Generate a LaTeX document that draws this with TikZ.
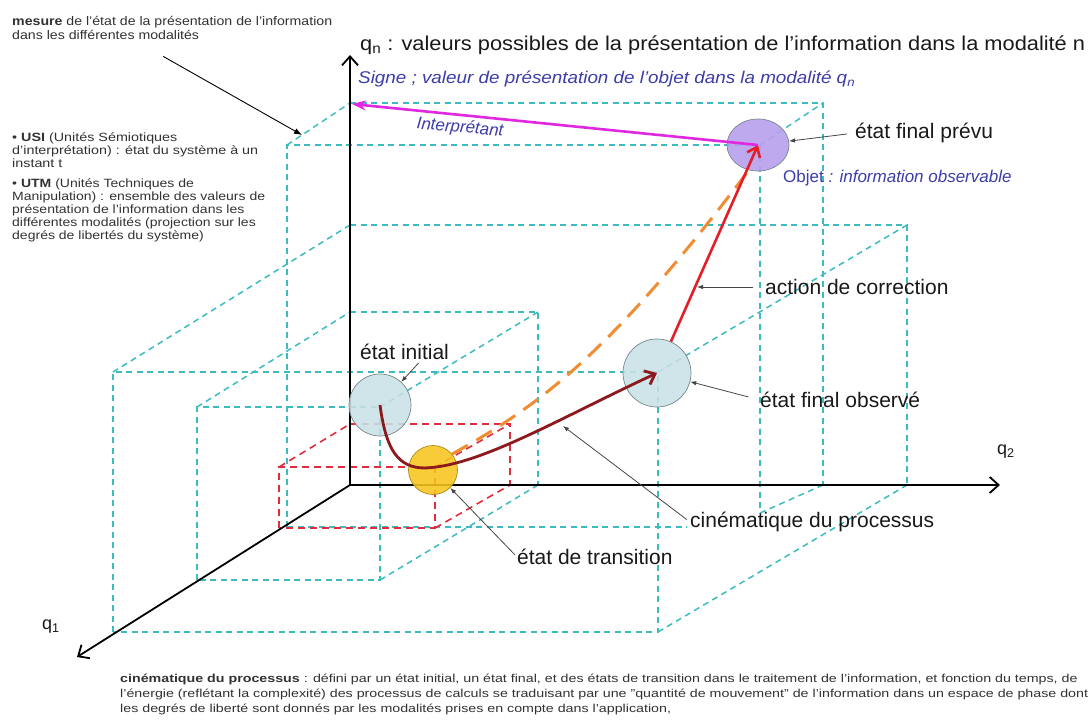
\documentclass[tikz,border=0pt]{standalone}
\usepackage{fontspec}
\setmainfont{Liberation Sans}
\usepackage{graphicx}
\usetikzlibrary{arrows.meta,calc,shapes.geometric}

\definecolor{cyanl}{RGB}{60,188,190}
\definecolor{redd}{RGB}{222,45,60}
\definecolor{stateblue}{RGB}{200,225,230}
\definecolor{ballgray}{RGB}{120,135,140}
\definecolor{transy}{RGB}{247,196,30}
\definecolor{prevuv}{RGB}{184,160,236}
\definecolor{objblue}{RGB}{60,60,170}
\definecolor{maroonc}{RGB}{140,25,28}
\definecolor{redarr}{RGB}{228,30,40}
\definecolor{magc}{RGB}{225,40,225}
\definecolor{orangec}{RGB}{240,140,50}
\definecolor{ptrgray}{RGB}{70,70,70}
\definecolor{smalltxt}{RGB}{50,50,50}

\newsavebox\fitbx
\newlength\fitlen
\newcommand\fitw[2]{\sbox\fitbx{#2}\setlength\fitlen{\wd\fitbx}\pgfmathsetmacro\fitsx{#1/\fitlen}\scalebox{\fitsx}[1]{\usebox\fitbx}}

\begin{document}
\begin{tikzpicture}[x=1pt,y=-1pt,
  cyd/.style={draw=cyanl, line width=1.5pt, dash pattern=on 6pt off 4.5pt},
  rdd/.style={draw=redd, line width=1.6pt, dash pattern=on 7pt off 5pt},
  axisline/.style={draw=black, line width=1.8pt, -{Straight Barb[length=9pt,width=16pt]}},
  ptr/.style={draw=ptrgray, line width=0.8pt, -{Latex[length=6pt,width=4.5pt]}},
  lbl/.style={font=\fontsize{21}{24}\selectfont, text=black!90, inner sep=0pt, anchor=west},
  ball/.style={circle, draw=ballgray, line width=0.7pt, inner sep=0pt, fill opacity=0.88},
  bluetxt/.style={text=objblue, font=\fontsize{17}{20}\selectfont\itshape, inner sep=0pt},
  smallblock/.style={anchor=north west, inner sep=0pt, text=smalltxt},
  redarrow/.style={draw=redarr, line width=2.6pt, -{Straight Barb[length=9pt,width=14pt]}},
  maroonarrow/.style={draw=maroonc, line width=2.8pt, -{Straight Barb[length=9pt,width=15pt]}},
  magarrow/.style={draw=magc, line width=2.6pt, -{Stealth[length=14pt,width=10pt]}},
  orangedash/.style={draw=orangec, line width=3pt, dash pattern=on 18pt off 10pt},
]
\useasboundingbox (0,0) rectangle (1092,722);

% ---- tall box (final expected) ----
\draw[cyd] (350,103) -- (823,103) -- (823,485);
\draw[cyd] (287,527) -- (287,145) -- (758,145);
\draw[cyd] (760,145) -- (760,513);
\draw[cyd] (287,527) -- (687,527);
\draw[cyd] (287,145) -- (350,103);
\draw[cyd] (760,145) -- (823,103);
\draw[cyd] (760,513) -- (823,485);

% ---- deep box (final observed) ----
\draw[cyd] (350,225) -- (907,225) -- (907,485);
\draw[cyd] (113,632) -- (113,372) -- (658,372) -- (658,632) -- cycle;
\draw[cyd] (113,372) -- (350,225);
\draw[cyd] (658,372) -- (907,225);
\draw[cyd] (658,632) -- (907,485);

% ---- middle box (initial) ----
\draw[cyd] (350,312) -- (538,312) -- (538,485);
\draw[cyd] (197,580) -- (197,407) -- (380,407) -- (380,580) -- cycle;
\draw[cyd] (197,407) -- (350,312);
\draw[cyd] (380,407) -- (538,312);
\draw[cyd] (380,580) -- (538,485);

% ---- red box (transition) ----
\draw[rdd] (350,424) -- (510,424) -- (510,485);
\draw[rdd] (279,528) -- (279,467) -- (435,467) -- (435,528) -- cycle;
\draw[rdd] (279,467) -- (350,424);
\draw[rdd] (435,467) -- (510,424);
\draw[rdd] (435,528) -- (510,485);

% ---- axes ----
\coordinate (O) at (350,485);
\coordinate (qnend) at (350,55);
\coordinate (q2end) at (1000,485);
\coordinate (q1end) at (77,657);
\draw[axisline] (O) -- (qnend);
\draw[axisline] (O) -- (q2end);
\draw[axisline] (O) -- (q1end);

% ---- states ----
\node[ball, fill=stateblue, minimum size=62pt] (init) at (380,405) {};
\node[ball, fill=stateblue, minimum size=68pt] (obs) at (657,373) {};
\node[ball, fill=transy, draw=transy!70!black, minimum size=49pt] (trans) at (433,470) {};
\node[ellipse, draw=ballgray, line width=0.7pt, fill=prevuv, fill opacity=0.9, minimum width=62pt, minimum height=52pt, inner sep=0pt] (prevu) at (758,145) {};

% ---- trajectories ----
\draw[orangedash] (trans.40) .. controls (545,403) and (615,347) .. (prevu.250);
\draw[maroonarrow] (init.center) .. controls (386,450) and (398,468) .. (425,468) .. controls (480,466) and (560,418) .. (obs.center);
\draw[redarrow] (obs) -- (prevu.center);
\coordinate (qntip) at (352,104);
\draw[magarrow] (prevu.center) -- (qntip);

% ---- labels ----
\node[lbl, font=\fontsize{20}{24}\selectfont] (lblqn) at (360,45) {\fitw{725}{q\textsubscript{n} : valeurs possibles de la présentation de l'information dans la modalité n}};
\node[bluetxt, anchor=west] (signe) at (358,79) {\fitw{497}{Signe ; valeur de présentation de l'objet dans la modalité q\textsubscript{n}}};
\node[bluetxt, rotate=-5] (interp) at (460,128) {Interprétant};
\node[bluetxt, anchor=west] (objet) at (783,178) {\upshape Objet\itshape{} : information observable};

\node[lbl] (lblprevu) at (855,133) {état final prévu};
\node[lbl] (lblcorr) at (765,287) {action de correction};
\node[lbl] (lblinit) at (360,352) {état initial};
\node[lbl] (lblobs) at (760,400) {état final observé};
\node[lbl] (lblcin) at (690,522) {cinématique du processus};
\node[lbl] (lbltrans) at (517,557) {état de transition};
\node[lbl, font=\fontsize{18}{20}\selectfont] (lq2) at (997,452) {q\textsubscript{2}};
\node[lbl, font=\fontsize{18}{20}\selectfont] (lq1) at (42,627) {q\textsubscript{1}};

\node[smallblock, font=\fontsize{12.5}{14}\selectfont] (mesure) at (12,16) {\fitw{320}{\begin{tabular}{@{}l@{}}\textbf{mesure} de l'état de la présentation de l'information\\ dans les différentes modalités\end{tabular}}};
\node[smallblock, font=\fontsize{12}{13}\selectfont] (usi) at (12,132) {\fitw{246}{\begin{tabular}{@{}l@{}}• \textbf{USI} (Unités Sémiotiques\\ d'interprétation) : état du système à un\\ instant t\end{tabular}}};
\node[smallblock, font=\fontsize{12}{13}\selectfont] (utm) at (12,178) {\fitw{253}{\begin{tabular}{@{}l@{}}• \textbf{UTM} (Unités Techniques de\\ Manipulation) : ensemble des valeurs de\\ présentation de l'information dans les\\ différentes modalités (projection sur les\\ degrés de libertés du système)\end{tabular}}};
\node[smallblock, font=\fontsize{11.5}{15}\selectfont] (para) at (120,672) {\fitw{968}{\begin{tabular}{@{}l@{}}\textbf{cinématique du processus} : défini par un état initial, un état final, et des états de transition dans le traitement de l'information, et fonction du temps, de\\ l'énergie (reflétant la complexité) des processus de calculs se traduisant par une "quantité de mouvement" de l'information dans un espace de phase dont\\ les degrés de liberté sont donnés par les modalités prises en compte dans l'application,\end{tabular}}};

% ---- pointers ----
\draw[ptr, shorten <=8pt] (lblprevu.west) -- (prevu);
\coordinate (corrpt) at (697,287);
\draw[ptr, shorten <=12pt] (lblcorr.west) -- (corrpt);
\draw[ptr, shorten <=12pt] (lblobs.west) -- (obs);
\draw[ptr] ($(lblinit.south)+(14,3)$) -- (init);
\coordinate (cinpt) at (563,426);
\draw[ptr, shorten <=4pt] (lblcin.west) -- (cinpt);
\draw[ptr, shorten <=3pt] (lbltrans.west) -- (trans);
\coordinate (mestip) at (302,135);
\draw[black, line width=0.9pt, -{Latex[length=8pt,width=6pt]}] ($(mesure.south)+(-9,12)$) -- (mestip);
\end{tikzpicture}
\end{document}
